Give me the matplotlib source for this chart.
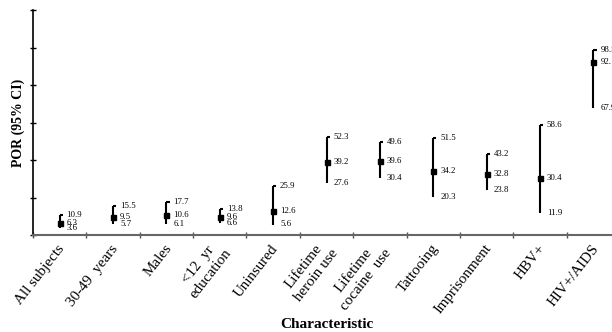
import numpy as np
import matplotlib
matplotlib.use("Agg")
import matplotlib.pyplot as plt

plt.rcParams['font.family'] = ['Liberation Serif', 'DejaVu Serif']

# Data: prevalence odds ratio with 95% CI
categories = ['All subjects', '30-49  years', 'Males', '<12  yr\neducation', 'Uninsured',
              'Lifetime\nheroin use', 'Lifetime\ncocaine  use', 'Tattooing', 'Imprisonment',
              'HBV+', 'HIV+/AIDS']
por = [6.3, 9.5, 10.6, 9.6, 12.6, 39.2, 39.6, 34.2, 32.8, 30.4, 92.1]
ci_low = [3.6, 5.7, 6.1, 6.6, 5.6, 27.6, 30.4, 20.3, 23.8, 11.9, 67.9]
ci_high = [10.9, 15.5, 17.7, 13.8, 25.9, 52.3, 49.6, 51.5, 43.2, 58.6, 98.5]

fig = plt.figure(figsize=(6.12, 3.32), dpi=100)
ax = fig.add_axes([33 / 612, 97 / 332, 587 / 612, 225 / 332])

x = np.arange(len(categories)) + 0.5
por = np.array(por)
lo = np.array(ci_low)
hi = np.array(ci_high)

ax.vlines(x, lo, hi, color='black', lw=1.5)
ax.hlines(hi, x, x + 0.06, color='black', lw=1.5)
ax.plot(x, por, 's', color='black', ms=3.6, ls='none')

for xi, p, l, h in zip(x, por, lo, hi):
    for v in (h, p, l):
        ax.annotate(f'{v:.1f}', (xi, v), xytext=(5, 0), textcoords='offset points',
                    fontsize=6.3, va='center', ha='left')

ax.set_xlim(0, len(categories))
ax.set_ylim(0, 120)
ax.set_xticks(np.arange(len(categories) + 1))
ax.set_xticklabels([])
ax.set_xticks(x + 0.05, categories, minor=True)
ax.tick_params(axis='x', which='minor', length=0, pad=8)
for t in ax.get_xticklabels(minor=True):
    t.set_rotation(52)
    t.set_rotation_mode('anchor')
    t.set_ha('right')
    t.set_va('center')
    t.set_multialignment('center')
    t.set_fontsize(10.8)
ax.tick_params(axis='x', which='major', direction='inout', length=5, width=1, color='#555555')
ax.set_yticks(np.arange(0, 121, 20))
ax.set_yticklabels([])
ax.tick_params(axis='y', direction='inout', length=5, width=1)

for s in ['top', 'right']:
    ax.spines[s].set_visible(False)
ax.spines['bottom'].set_color('#666666')
ax.spines['bottom'].set_linewidth(1.5)
ax.spines['left'].set_linewidth(1.2)

ax.set_ylabel('POR (95% CI)', fontsize=10, fontweight='bold', labelpad=0)
fig.text(327 / 612, 1 - 325 / 332, 'Characteristic', fontsize=11, fontweight='bold',
         ha='center', va='center')

fig.savefig('out.png', dpi=100)
